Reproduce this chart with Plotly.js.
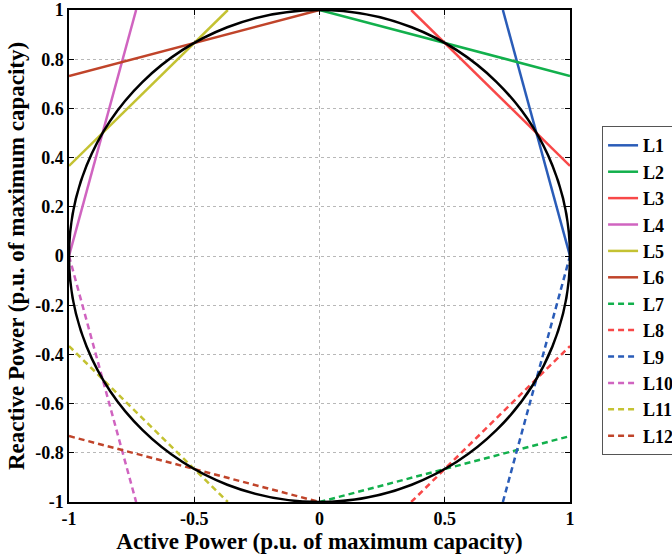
<!DOCTYPE html>
<html>
<head>
<meta charset="utf-8">
<script src="https://cdn.plot.ly/plotly-3.0.1.min.js"></script>
<style>html,body{margin:0;padding:0;background:#fff;}#chart{width:672px;height:560px;}</style>
</head>
<body>
<div id="chart"></div>
<script>
// Line names
const names = ['L1','L2','L3','L4','L5','L6','L7','L8','L9','L10','L11','L12'];
// Visible endpoints of each line (p.u.)
const xStart = [0.732, 0, 0.366, -1, -1, -1, 0, 0.366, 0.732, -1, -1, -1];
const yStart = [1, 1, 1, 0, 0.366, 0.732, -1, -1, -1, 0, -0.366, -0.732];
const xEnd = [1, 1, 1, -0.732, -0.366, 0, 1, 1, 1, -0.732, -0.366, 0];
const yEnd = [0, 0.732, 0.366, 1, 1, 1, -0.732, -0.366, 0, -1, -1, -1];
// Capability circle radius (p.u.)
const circleRadius = 1;
const xTicks = [-1, -0.5, 0, 0.5, 1];
const yTicks = [-1, -0.8, -0.6, -0.4, -0.2, 0, 0.2, 0.4, 0.6, 0.8, 1];

const colors = ['#2a5cb8','#12b04c','#f84848','#d064c0','#c4c232','#c0442a',
                '#12b04c','#f84848','#2a5cb8','#d064c0','#c4c232','#c0442a'];
const dashes = ['solid','solid','solid','solid','solid','solid',
                '6px,4px','6px,4px','6px,4px','6px,4px','6px,4px','6px,4px'];

const serif = 'Liberation Serif';
const traces = names.map((n, i) => ({
  type: 'scatter', mode: 'lines', name: n,
  x: [xStart[i], xEnd[i]], y: [yStart[i], yEnd[i]],
  line: {color: colors[i], width: 2.5, dash: dashes[i]}
}));

const axisCommon = {
  showline: true, mirror: 'ticks', linecolor: '#000', linewidth: 1.5,
  ticks: 'inside', ticklen: 5, tickcolor: '#000',
  showgrid: true, gridcolor: '#b8b8b8', griddash: 'dot', gridwidth: 1,
  zeroline: false,
  tickfont: {family: serif, size: 18, color: '#000', weight: 'bold'}
};

const layout = {
  width: 672, height: 560,
  margin: {l: 69, r: 102, t: 10, b: 58, autoexpand: false},
  paper_bgcolor: '#fff', plot_bgcolor: '#fff',
  showlegend: true,
  legend: {
    x: 1.064, y: 0.764, xanchor: 'left', yanchor: 'top',
    bordercolor: '#555', borderwidth: 1, bgcolor: '#fff',
    font: {family: serif, size: 18, color: '#000', weight: 'bold'},
    tracegroupgap: 0
  },
  xaxis: Object.assign({}, axisCommon, {
    range: [-1, 1], tickvals: xTicks, ticktext: xTicks.map(String),
    title: {text: 'Active Power (p.u. of maximum capacity)', standoff: 2,
            font: {family: serif, size: 23, color: '#000', weight: 'bold'}}
  }),
  yaxis: Object.assign({}, axisCommon, {
    range: [-1, 1], tickvals: yTicks, ticktext: yTicks.map(String),
    title: {text: 'Reactive Power (p.u. of maximum capacity)', standoff: 4,
            font: {family: serif, size: 23, color: '#000', weight: 'bold'}}
  }),
  shapes: [{
    type: 'circle', xref: 'x', yref: 'y', layer: 'above',
    x0: -circleRadius, y0: -circleRadius, x1: circleRadius, y1: circleRadius,
    line: {color: '#000', width: 2.5}
  }]
};

Plotly.newPlot('chart', traces, layout, {displayModeBar: false});
</script>
</body>
</html>
